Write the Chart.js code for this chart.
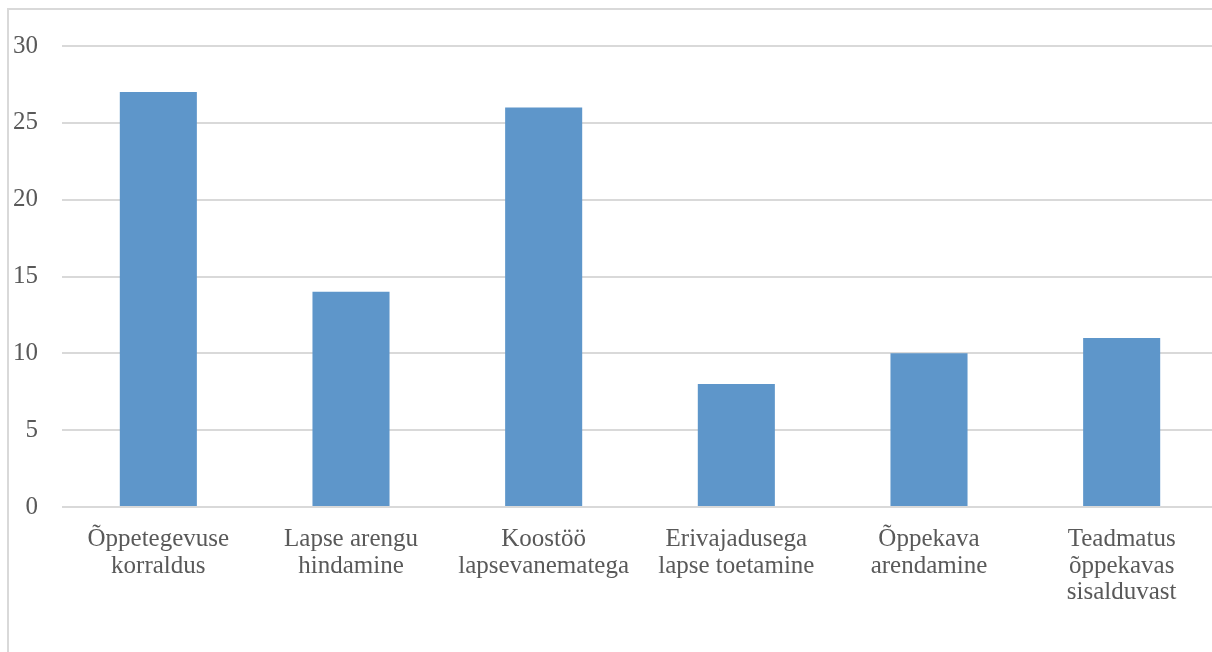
<!DOCTYPE html>
<html>
<head>
<meta charset="utf-8">
<script src="https://cdn.jsdelivr.net/npm/chart.js@4/dist/chart.umd.min.js"></script>
<style>
    html, body { margin: 0; padding: 0; overflow: hidden; background: #fff; }
    #frame {
        position: absolute; left: 7px; top: 8px; width: 1300px; height: 700px;
        border-left: 2px solid #d9d9d9; border-top: 2px solid #d9d9d9;
    }
    #chart { position: absolute; left: 0; top: 0; }
</style>
</head>
<body>
<div id="frame"></div>
<canvas id="chart" width="1218" height="652"></canvas>
<script>
// andmed
var kategooriad = [
    ["Õppetegevuse", "korraldus"],
    ["Lapse arengu", "hindamine"],
    ["Koostöö", "lapsevanematega"],
    ["Erivajadusega", "lapse toetamine"],
    ["Õppekava", "arendamine"],
    ["Teadmatus", "õppekavas", "sisalduvast"]
];
var vaartused = [27, 14, 26, 8, 10, 11];
var yMax = 30;
var ySamm = 5;

var fontName = "'Liberation Serif', serif";

function joonista() {
    var ctx = document.getElementById("chart").getContext("2d");
    new Chart(ctx, {
        type: "bar",
        data: {
            labels: kategooriad,
            datasets: [{
                data: vaartused,
                backgroundColor: "#5e96ca",
                borderWidth: 0,
                categoryPercentage: 1,
                barPercentage: 0.4
            }]
        },
        options: {
            responsive: false,
            animation: false,
            layout: { padding: { top: 46, left: 0, right: 0, bottom: 0 } },
            plugins: {
                legend: { display: false },
                tooltip: { enabled: false }
            },
            scales: {
                x: {
                    grid: { display: false, drawTicks: false },
                    border: { display: false },
                    ticks: {
                        color: "#595959",
                        padding: 19,
                        maxRotation: 0,
                        autoSkip: false,
                        font: { family: fontName, size: 25, lineHeight: 1.07 }
                    },
                    afterFit: function (scale) { scale.height = 145; }
                },
                y: {
                    min: 0,
                    max: yMax,
                    grid: { color: "#d9d9d9", lineWidth: 2, drawTicks: false },
                    border: { display: false },
                    ticks: {
                        stepSize: ySamm,
                        color: "#595959",
                        padding: 24,
                        font: { family: fontName, size: 25 }
                    },
                    afterFit: function (scale) { scale.width = 62; }
                }
            }
        }
    });
}

joonista();
</script>
</body>
</html>
